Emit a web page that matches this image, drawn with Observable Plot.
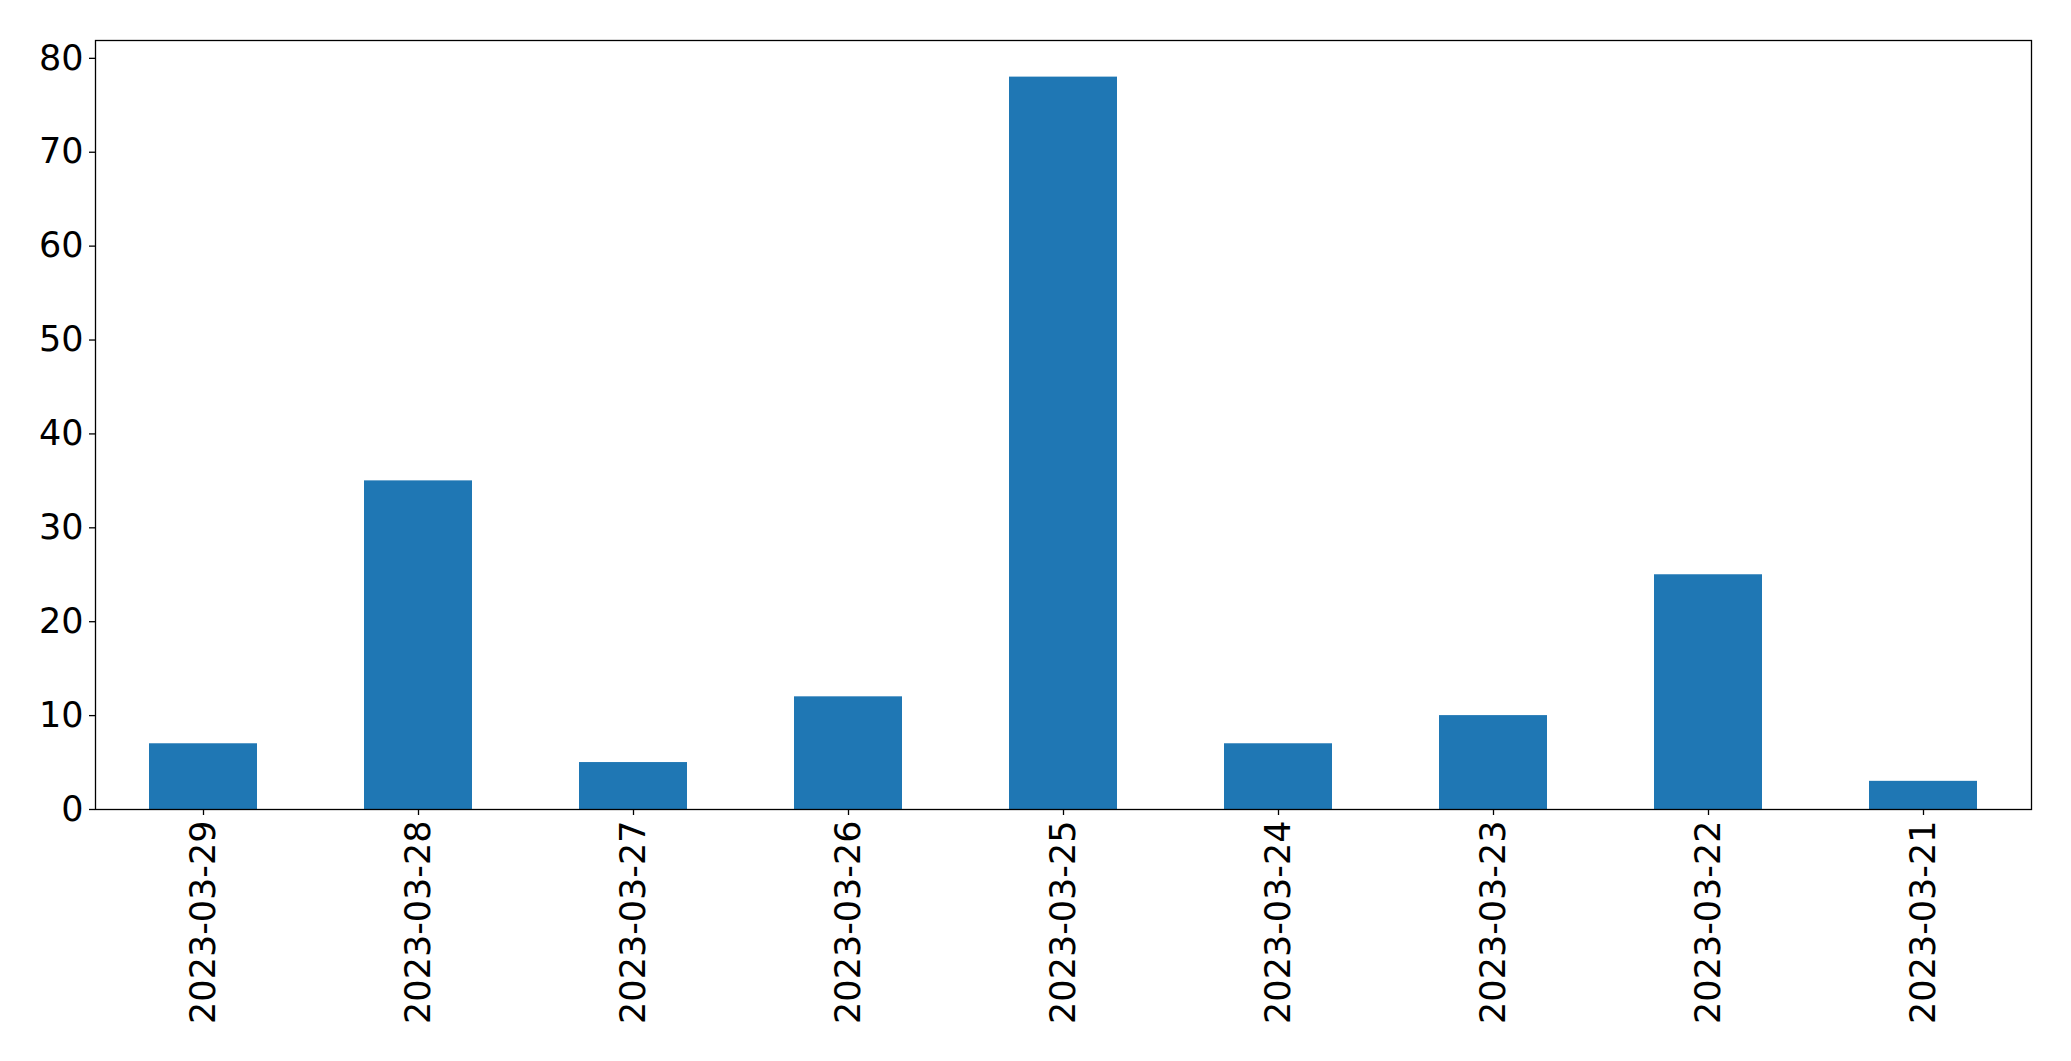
<!DOCTYPE html>
<html>
<head>
<meta charset="utf-8">
<script src="https://cdn.jsdelivr.net/npm/d3@7"></script>
<script src="https://cdn.jsdelivr.net/npm/@observablehq/plot@0.6"></script>
<style>
  html, body { margin: 0; padding: 0; background: #fff; }
</style>
</head>
<body>
<div id="chart"></div>
<script>
const dates = ["2023-03-29", "2023-03-28", "2023-03-27", "2023-03-26", "2023-03-25", "2023-03-24", "2023-03-23", "2023-03-22", "2023-03-21"];
const counts = [7, 35, 5, 12, 78, 7, 10, 25, 3];
const yTicks = [0, 10, 20, 30, 40, 50, 60, 70, 80];

const data = dates.map((d, i) => ({date: d, count: counts[i]}));

const chart = Plot.plot({
  width: 2071,
  height: 1061,
  marginLeft: 95,
  marginRight: 40,
  marginTop: 40,
  marginBottom: 252,
  style: {fontFamily: "DejaVu Sans", fontSize: "35px", color: "#000", background: "#fff", overflow: "visible"},
  x: {type: "band", domain: dates, paddingInner: 0.5, paddingOuter: 0.25, label: null},
  y: {domain: [0, 81.9], label: null},
  marks: [
    Plot.barY(data, {x: "date", y: "count", fill: "#1f77b4"}),
    Plot.axisY({ticks: yTicks, tickSize: 6, tickPadding: 6, fontSize: 35, label: null, stroke: "#000", strokeOpacity: 1, strokeWidth: 1.3}),
    Plot.axisX({tickSize: 6, tickPadding: 5, tickRotate: -90, fontSize: 35, label: null, stroke: "#000", strokeOpacity: 1, strokeWidth: 1.3}),
    Plot.frame({stroke: "#000", strokeWidth: 1.3})
  ]
});
document.getElementById("chart").appendChild(chart);
</script>
</body>
</html>
